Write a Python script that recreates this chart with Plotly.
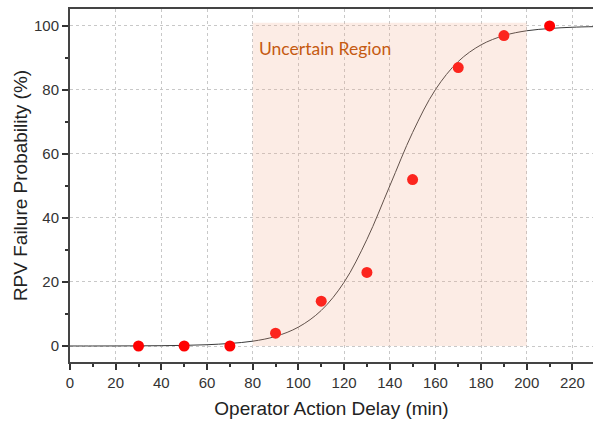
import plotly.graph_objects as go

# Observed data points
delay = [30, 50, 70, 90, 110, 130, 150, 170, 190, 210]
prob = [0, 0, 0, 4, 14, 23, 52, 87, 97, 100]

# Fitted curve values
curve_x = [0, 10, 20, 30, 40, 50, 60, 70, 80, 90, 100, 110, 120, 130, 140,
           150, 160, 170, 180, 190, 200, 210, 220, 230]
curve_y = [0.01, 0.01, 0.02, 0.05, 0.1, 0.2, 0.4, 0.8, 1.5, 3.0, 5.9, 11.1,
           19.9, 33.3, 50.0, 66.7, 80.1, 88.9, 94.1, 97.0, 98.5, 99.2, 99.6, 99.8]

region = [80, 200]
region_y = [0, 101]

x_ticks = list(range(0, 221, 20))
y_ticks = list(range(0, 101, 20))

fig = go.Figure()
fig.add_trace(go.Scatter(x=curve_x, y=curve_y, mode="lines", line_shape="spline",
                         line=dict(color="#3a3a3a", width=1), hoverinfo="skip",
                         showlegend=False))
fig.add_trace(go.Scatter(x=delay, y=prob, mode="markers",
                         marker=dict(color="#ff0000", size=11), showlegend=False))

fig.add_shape(type="rect", x0=region[0], x1=region[1], y0=region_y[0], y1=region_y[1],
              xref="x", yref="y", layer="above", line_width=0,
              fillcolor="rgba(240,168,135,0.22)")

fig.add_annotation(x=region[0] + 2, y=93, xref="x", yref="y", text="Uncertain Region",
                   showarrow=False, xanchor="left", yanchor="middle",
                   font=dict(family="Lato, Open Sans, sans-serif", size=17.5, color="#c55a11"))

axis_font = dict(family="Liberation Sans, Arial, sans-serif", size=15, color="#333333")
title_font = dict(family="Liberation Sans, Arial, sans-serif", size=19, color="#222222")
fig.update_xaxes(range=[0, 229], tickvals=x_ticks, ticks="outside", ticklen=6,
                 tickcolor="#333333", tickwidth=1.5,
                 minor=dict(dtick=10, ticks="outside", ticklen=3, tickcolor="#333333",
                            tickwidth=1.5, showgrid=False),
                 showline=True, linecolor="#444444", linewidth=2, mirror=True,
                 showgrid=True, gridcolor="#c8c8c8", griddash="dot", gridwidth=1,
                 zeroline=False, tickfont=axis_font,
                 title=dict(text="Operator Action Delay (min)", standoff=12, font=title_font))
fig.update_yaxes(range=[-5, 105.3], tickvals=y_ticks, ticks="outside", ticklen=6,
                 tickcolor="#333333", tickwidth=1.5,
                 minor=dict(dtick=10, tick0=0, ticks="outside", ticklen=3,
                            tickcolor="#333333", tickwidth=1.5, showgrid=False),
                 showline=True, linecolor="#444444", linewidth=2,
                 showgrid=True, gridcolor="#c8c8c8", griddash="dot", gridwidth=1,
                 zeroline=False, tickfont=axis_font,
                 title=dict(text="RPV Failure Probability (%)", standoff=1, font=title_font))

fig.update_layout(width=593, height=424, margin=dict(l=70, r=0, t=9, b=62),
                  paper_bgcolor="white", plot_bgcolor="white")

fig.write_html("out.html")
